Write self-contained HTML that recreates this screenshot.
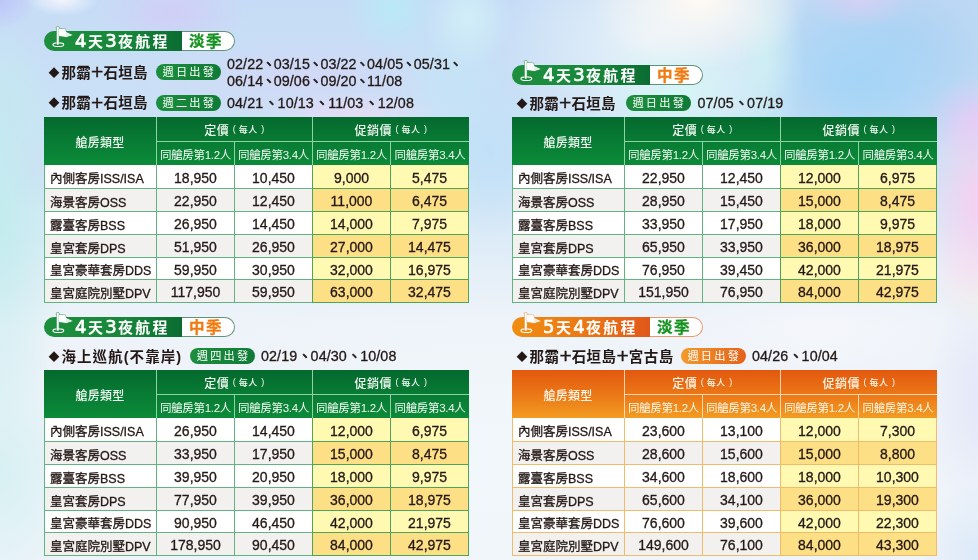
<!DOCTYPE html>
<html lang="zh-Hant"><head><meta charset="utf-8"><title>航程價格表</title>
<style>
*{margin:0;padding:0;box-sizing:border-box}
html,body{width:978px;height:560px;overflow:hidden}
body{position:relative;font-family:"Liberation Sans", "Noto Sans CJK TC", sans-serif;color:#231815;
background:
 radial-gradient(ellipse 36px 30px at 0px 0px, rgba(190,196,250,0.95), rgba(190,196,250,0) 100%),
 radial-gradient(ellipse 36px 16px at 62px 0px, rgba(248,248,252,0.9), rgba(248,248,252,0) 100%),
 radial-gradient(ellipse 110px 70px at 700px 0px, rgba(255,250,244,1), rgba(255,250,244,0) 100%),
 radial-gradient(ellipse 100px 60px at 680px 95px, rgba(214,246,246,0.9), rgba(214,246,246,0) 100%),
 radial-gradient(ellipse 150px 110px at 650px 40px, rgba(240,248,250,0.8), rgba(240,248,250,0) 100%),
 radial-gradient(ellipse 55px 100px at 980px 200px, rgba(248,206,240,1), rgba(248,206,240,0) 100%),
 radial-gradient(ellipse 45px 50px at 965px 270px, rgba(244,232,244,0.9), rgba(244,232,244,0) 100%),
 radial-gradient(ellipse 45px 40px at 985px 290px, rgba(238,242,230,0.9), rgba(238,242,230,0) 100%),
 radial-gradient(ellipse 60px 120px at 985px 400px, rgba(222,224,248,0.7), rgba(222,224,248,0) 100%),
 radial-gradient(ellipse 60px 80px at 978px 560px, rgba(214,230,248,0.8), rgba(214,230,248,0) 100%),
 radial-gradient(ellipse 55px 28px at 860px 0px, rgba(214,208,244,0.9), rgba(214,208,244,0) 100%),
 radial-gradient(ellipse 55px 45px at 978px 120px, rgba(228,200,246,0.9), rgba(228,200,246,0) 100%),
 radial-gradient(ellipse 40px 90px at 765px 60px, rgba(204,240,242,0.8), rgba(204,240,242,0) 100%),
 radial-gradient(ellipse 130px 90px at 860px 80px, rgba(164,212,246,1), rgba(164,212,246,0) 100%),
 radial-gradient(ellipse 170px 110px at 900px 40px, rgba(176,210,242,1), rgba(176,210,242,0) 100%),
 radial-gradient(ellipse 90px 22px at 350px 114px, rgba(232,220,246,0.9), rgba(232,220,246,0) 100%),
 radial-gradient(ellipse 45px 45px at 392px 8px, rgba(184,234,246,0.9), rgba(184,234,246,0) 100%),
 radial-gradient(ellipse 45px 50px at 468px 18px, rgba(210,240,248,0.9), rgba(210,240,248,0) 100%),
 radial-gradient(ellipse 60px 60px at 450px 75px, rgba(196,228,246,0.8), rgba(196,228,246,0) 100%),
 radial-gradient(ellipse 75px 40px at 172px 12px, rgba(208,206,246,1), rgba(208,206,246,0) 100%),
 radial-gradient(ellipse 170px 45px at 300px 78px, rgba(210,216,246,0.9), rgba(210,216,246,0) 100%),
 radial-gradient(ellipse 70px 210px at 0px 220px, rgba(194,236,238,1), rgba(194,236,238,0) 100%),
 radial-gradient(ellipse 30px 40px at 30px 170px, rgba(212,216,246,0.7), rgba(212,216,246,0) 100%),
 radial-gradient(ellipse 50px 60px at 0px 90px, rgba(200,228,244,0.9), rgba(200,228,244,0) 100%),
 radial-gradient(ellipse 90px 140px at 0px 470px, rgba(212,240,242,0.9), rgba(212,240,242,0) 100%),
 radial-gradient(ellipse 60px 90px at 490px 150px, rgba(192,224,248,0.9), rgba(192,224,248,0) 100%),
 radial-gradient(ellipse 420px 180px at 490px 470px, rgba(242,247,251,1), rgba(242,247,251,0) 100%),
 radial-gradient(ellipse 160px 60px at 820px 330px, rgba(244,246,251,1), rgba(244,246,251,0) 100%),
 linear-gradient(180deg, #c6dcf6 0%, #cde3f6 30%, #e4eff8 48%, #eef3f9 58%, #eff4fa 100%);}
.pill{position:absolute;width:191px;height:20px}
.pill .pl{position:absolute;left:0;top:0;width:138px;height:20px;border-radius:10px 0 0 10px}
.pill.g .pl{background:linear-gradient(90deg,#1e8f3e 0%,#17863a 60%,#0b6c32 100%)}
.pill.o .pl{background:linear-gradient(90deg,#ef8e12 0%,#eb7614 55%,#e1581a 100%)}
.pill .pr{position:absolute;left:138px;top:0;width:53px;height:20px;background:#fff;border-radius:0 10px 10px 0;border:1.4px solid #62927a;border-left:none}
.pill.o .pr{border-color:#e89a6a}
.pill .flag{position:absolute;left:0;top:-5px;z-index:2}
.pill .pm{position:absolute;left:31px;top:0;line-height:20px;font-size:15px;font-weight:700;color:#fff;letter-spacing:2.2px;white-space:nowrap;z-index:2}
.pill .dg{font-family:"DejaVu Sans",sans-serif;font-size:18px;font-weight:400;letter-spacing:1.5px;-webkit-text-stroke:0.7px #fff}
.pill .ps{position:absolute;left:145px;top:1.2px;line-height:20px;font-size:15.5px;font-weight:700;letter-spacing:1.5px;white-space:nowrap;z-index:2;-webkit-text-stroke:0.3px currentColor}
.ps.g{color:#14921f}
.ps.o{color:#f07a10}
.ln{position:absolute;height:20px;line-height:20px;white-space:nowrap}
.ln .dia{font-size:11px;display:inline-block;width:13px;vertical-align:top;line-height:20px}
.ln .tt{font-size:14.5px;font-weight:700;letter-spacing:0.3px}
.ln .plus{font-size:21px;font-weight:400;letter-spacing:0;line-height:10px;-webkit-text-stroke:0.35px #231815;position:relative;top:1.5px}
.badge{position:absolute;width:65.5px;height:16px;border-radius:8px;color:#fff;font-size:11.2px;line-height:17px;text-align:center;letter-spacing:2.2px;padding-left:2px;white-space:nowrap}
.badge.g{background:linear-gradient(90deg,#1c8e3e,#0f7b36)}
.badge.o{background:linear-gradient(90deg,#f29a2c,#e4621a)}
.dt{position:absolute;height:20px;line-height:20px;font-size:14.3px;white-space:nowrap;letter-spacing:0.1px;-webkit-text-stroke:0.3px #231815}
.dt .cm{margin-left:-1.5px;-webkit-text-stroke:0.6px #231815}
.tbl{position:absolute;width:425px;height:186px;display:grid;grid-template-columns:112px 78px 78px 78px 79px;grid-template-rows:25px 23px 24px 23px 23px 23px 22px 23px}
.tbl .hbg{grid-row:1/3;grid-column:1/6}
.tbl.g .hbg{background:linear-gradient(180deg,#04692e 0%,#087b34 50%,#0b8b38 100%)}
.tbl.o .hbg{background:linear-gradient(180deg,#e2580e 0%,#ec7a18 55%,#f29c22 100%)}
.h{display:flex;align-items:center;justify-content:center;white-space:nowrap;color:#f2faf2}
.tbl.o .h{color:#fff6e6}
.h1{font-size:12px;font-weight:500;letter-spacing:0.2px}
.h2{font-size:12px;font-weight:500;letter-spacing:0.5px;border-left:1px solid rgba(150,216,170,0.95);border-bottom:1px solid rgba(150,216,170,0.95)}
.h2 small{font-size:9px;font-weight:500;margin-left:3.5px}
.h2 small.m{margin-left:2.5px}
.h3{font-size:11.5px;font-weight:400;letter-spacing:-0.3px;border-left:1px solid rgba(150,216,170,0.95)}
.tbl.o .h2,.tbl.o .h3{border-color:rgba(255,230,200,0.85)}
.c{display:flex;align-items:center;white-space:nowrap;border-bottom:1px solid #62b282;border-left:1px solid #62b282;font-size:13px}
.tbl.o .c{border-color:#f0bc6c}
.c.n{padding-left:5px;padding-top:2px;font-size:12.5px;letter-spacing:0;-webkit-text-stroke:0.3px #231815}
.c.v,.c.p{justify-content:center;font-size:14px;padding-top:2px;-webkit-text-stroke:0.3px #231815}
.c.last{border-right:1px solid #62b282}
.tbl.o .c.last{border-right-color:#f0bc6c}
.c.odd{background:#fff}
.c.even{background:#f2f1f0}
.c.p.odd{background:#fff9b2}
.c.p.even{background:#fddf86}
.tbl.g .c.p{border-color:#4ea45a}
</style></head>
<body>
<div class="pill g" style="left:44px;top:30.5px"><svg class="flag" width="34" height="26" viewBox="0 0 34 26"><ellipse cx="14.35" cy="18.7" rx="5.4" ry="1.8" fill="none" stroke="#fff" stroke-width="1.1"/><g stroke="#4f9e68" stroke-width="0.7" fill="#fff"><path d="M14.8 2.4 L21.6 3.1 L22.2 6 L28.6 9 L22.4 11.1 L14.8 10.1 Z"/><rect x="12.7" y="1.6" width="2.1" height="17.3" rx="1"/><circle cx="13.75" cy="1.9" r="1.6"/></g><path d="M12.95 2.2 h1.6 v16 h-1.6 Z M15.1 2.8 L21.3 3.4 L21.9 6.3 L28 9 L22.2 10.8 L15.1 9.8 Z" fill="#fff"/><path d="M22 6.4 L27.8 9 L22.4 10.7 Z" fill="#e2f0e6"/></svg><div class="pl"></div><div class="pr"></div><span class="pm"><b class="dg">4</b>天<b class="dg">3</b>夜航程</span><span class="ps g">淡季</span></div>
<div class="pill g" style="left:512px;top:64.7px"><svg class="flag" width="34" height="26" viewBox="0 0 34 26"><ellipse cx="14.35" cy="18.7" rx="5.4" ry="1.8" fill="none" stroke="#fff" stroke-width="1.1"/><g stroke="#4f9e68" stroke-width="0.7" fill="#fff"><path d="M14.8 2.4 L21.6 3.1 L22.2 6 L28.6 9 L22.4 11.1 L14.8 10.1 Z"/><rect x="12.7" y="1.6" width="2.1" height="17.3" rx="1"/><circle cx="13.75" cy="1.9" r="1.6"/></g><path d="M12.95 2.2 h1.6 v16 h-1.6 Z M15.1 2.8 L21.3 3.4 L21.9 6.3 L28 9 L22.2 10.8 L15.1 9.8 Z" fill="#fff"/><path d="M22 6.4 L27.8 9 L22.4 10.7 Z" fill="#e2f0e6"/></svg><div class="pl"></div><div class="pr"></div><span class="pm"><b class="dg">4</b>天<b class="dg">3</b>夜航程</span><span class="ps o">中季</span></div>
<div class="pill g" style="left:44px;top:317px"><svg class="flag" width="34" height="26" viewBox="0 0 34 26"><ellipse cx="14.35" cy="18.7" rx="5.4" ry="1.8" fill="none" stroke="#fff" stroke-width="1.1"/><g stroke="#4f9e68" stroke-width="0.7" fill="#fff"><path d="M14.8 2.4 L21.6 3.1 L22.2 6 L28.6 9 L22.4 11.1 L14.8 10.1 Z"/><rect x="12.7" y="1.6" width="2.1" height="17.3" rx="1"/><circle cx="13.75" cy="1.9" r="1.6"/></g><path d="M12.95 2.2 h1.6 v16 h-1.6 Z M15.1 2.8 L21.3 3.4 L21.9 6.3 L28 9 L22.2 10.8 L15.1 9.8 Z" fill="#fff"/><path d="M22 6.4 L27.8 9 L22.4 10.7 Z" fill="#e2f0e6"/></svg><div class="pl"></div><div class="pr"></div><span class="pm"><b class="dg">4</b>天<b class="dg">3</b>夜航程</span><span class="ps o">中季</span></div>
<div class="pill o" style="left:512px;top:317px"><svg class="flag" width="34" height="26" viewBox="0 0 34 26"><ellipse cx="14.35" cy="18.7" rx="5.4" ry="1.8" fill="none" stroke="#fff" stroke-width="1.1"/><g stroke="#e9a066" stroke-width="0.7" fill="#fff"><path d="M14.8 2.4 L21.6 3.1 L22.2 6 L28.6 9 L22.4 11.1 L14.8 10.1 Z"/><rect x="12.7" y="1.6" width="2.1" height="17.3" rx="1"/><circle cx="13.75" cy="1.9" r="1.6"/></g><path d="M12.95 2.2 h1.6 v16 h-1.6 Z M15.1 2.8 L21.3 3.4 L21.9 6.3 L28 9 L22.2 10.8 L15.1 9.8 Z" fill="#fff"/><path d="M22 6.4 L27.8 9 L22.4 10.7 Z" fill="#fbe8d8"/></svg><div class="pl"></div><div class="pr"></div><span class="pm"><b class="dg">5</b>天<b class="dg">4</b>夜航程</span><span class="ps g">淡季</span></div>
<div class="ln" style="left:48.5px;top:62.8px"><span class="dia">◆</span><span class="tt" style="letter-spacing:0.3px">那霸<span class="plus">+</span>石垣島</span></div><div class="badge g" style="left:155.6px;top:64.2px">週日出發</div><div class="dt" style="left:227px;top:54.2px">02/22<span class="cm" style="margin-left:-1.5px;letter-spacing:-2.4px">、</span>03/15<span class="cm" style="margin-left:-1.5px;letter-spacing:-2.4px">、</span>03/22<span class="cm" style="margin-left:-1.5px;letter-spacing:-2.4px">、</span>04/05<span class="cm" style="margin-left:-1.5px;letter-spacing:-2.4px">、</span>05/31<span class="cm" style="margin-left:-1.5px;letter-spacing:-2.4px">、</span></div><div class="dt" style="left:227px;top:71px">06/14<span class="cm" style="margin-left:-1.5px;letter-spacing:-2.4px">、</span>09/06<span class="cm" style="margin-left:-1.5px;letter-spacing:-2.4px">、</span>09/20<span class="cm" style="margin-left:-1.5px;letter-spacing:-2.4px">、</span>11/08</div>
<div class="ln" style="left:48.5px;top:93.1px"><span class="dia">◆</span><span class="tt" style="letter-spacing:0.3px">那霸<span class="plus">+</span>石垣島</span></div><div class="badge g" style="left:155.6px;top:94.5px">週二出發</div><div class="dt" style="left:227px;top:92.5px">04/21<span class="cm" style="margin-left:1px;letter-spacing:-1px">、</span>10/13<span class="cm" style="margin-left:1px;letter-spacing:-1px">、</span>11/03<span class="cm" style="margin-left:1px;letter-spacing:-1px">、</span>12/08</div>
<div class="ln" style="left:516.5px;top:93.6px"><span class="dia">◆</span><span class="tt" style="letter-spacing:0.3px">那霸<span class="plus">+</span>石垣島</span></div><div class="badge g" style="left:625.5px;top:95px">週日出發</div><div class="dt" style="left:697.5px;top:93px">07/05<span class="cm" style="margin-left:0.5px;letter-spacing:-1.5px">、</span>07/19</div>
<div class="ln" style="left:48.5px;top:346.5px"><span class="dia">◆</span><span class="tt" style="letter-spacing:1.05px">海上巡航(不靠岸)</span></div><div class="badge g" style="left:189.8px;top:347.9px">週四出發</div><div class="dt" style="left:261px;top:345.9px">02/19<span class="cm" style="margin-left:0.5px;letter-spacing:-1.5px">、</span>04/30<span class="cm" style="margin-left:0.5px;letter-spacing:-1.5px">、</span>10/08</div>
<div class="ln" style="left:516.5px;top:346.6px"><span class="dia">◆</span><span class="tt" style="letter-spacing:0.45px">那霸<span class="plus">+</span>石垣島<span class="plus">+</span>宮古島</span></div><div class="badge o" style="left:680.5px;top:348px">週日出發</div><div class="dt" style="left:752px;top:346px">04/26<span class="cm" style="margin-left:0.5px;letter-spacing:-1.5px">、</span>10/04</div>
<div class="tbl g" style="left:44px;top:117px">
<div class="hbg"></div>
<div class="h h1" style="grid-row:1/3;grid-column:1">艙房類型</div>
<div class="h h2" style="grid-row:1;grid-column:2/4">定價<small>(</small><small class="m">每人</small><small>)</small></div>
<div class="h h2" style="grid-row:1;grid-column:4/6">促銷價<small>(</small><small class="m">每人</small><small>)</small></div>
<div class="h h3" style="grid-row:2;grid-column:2">同艙房第1.2人</div>
<div class="h h3" style="grid-row:2;grid-column:3">同艙房第3.4人</div>
<div class="h h3" style="grid-row:2;grid-column:4">同艙房第1.2人</div>
<div class="h h3" style="grid-row:2;grid-column:5">同艙房第3.4人</div>
<div class="c n odd">內側客房ISS/ISA</div><div class="c v odd">18,950</div><div class="c v odd">10,450</div><div class="c p odd">9,000</div><div class="c p odd last">5,475</div><div class="c n even">海景客房OSS</div><div class="c v even">22,950</div><div class="c v even">12,450</div><div class="c p even">11,000</div><div class="c p even last">6,475</div><div class="c n odd">露臺客房BSS</div><div class="c v odd">26,950</div><div class="c v odd">14,450</div><div class="c p odd">14,000</div><div class="c p odd last">7,975</div><div class="c n even">皇宮套房DPS</div><div class="c v even">51,950</div><div class="c v even">26,950</div><div class="c p even">27,000</div><div class="c p even last">14,475</div><div class="c n odd">皇宮豪華套房DDS</div><div class="c v odd">59,950</div><div class="c v odd">30,950</div><div class="c p odd">32,000</div><div class="c p odd last">16,975</div><div class="c n even">皇宮庭院別墅DPV</div><div class="c v even">117,950</div><div class="c v even">59,950</div><div class="c p even">63,000</div><div class="c p even last">32,475</div>
</div>
<div class="tbl g" style="left:512px;top:117px">
<div class="hbg"></div>
<div class="h h1" style="grid-row:1/3;grid-column:1">艙房類型</div>
<div class="h h2" style="grid-row:1;grid-column:2/4">定價<small>(</small><small class="m">每人</small><small>)</small></div>
<div class="h h2" style="grid-row:1;grid-column:4/6">促銷價<small>(</small><small class="m">每人</small><small>)</small></div>
<div class="h h3" style="grid-row:2;grid-column:2">同艙房第1.2人</div>
<div class="h h3" style="grid-row:2;grid-column:3">同艙房第3.4人</div>
<div class="h h3" style="grid-row:2;grid-column:4">同艙房第1.2人</div>
<div class="h h3" style="grid-row:2;grid-column:5">同艙房第3.4人</div>
<div class="c n odd">內側客房ISS/ISA</div><div class="c v odd">22,950</div><div class="c v odd">12,450</div><div class="c p odd">12,000</div><div class="c p odd last">6,975</div><div class="c n even">海景客房OSS</div><div class="c v even">28,950</div><div class="c v even">15,450</div><div class="c p even">15,000</div><div class="c p even last">8,475</div><div class="c n odd">露臺客房BSS</div><div class="c v odd">33,950</div><div class="c v odd">17,950</div><div class="c p odd">18,000</div><div class="c p odd last">9,975</div><div class="c n even">皇宮套房DPS</div><div class="c v even">65,950</div><div class="c v even">33,950</div><div class="c p even">36,000</div><div class="c p even last">18,975</div><div class="c n odd">皇宮豪華套房DDS</div><div class="c v odd">76,950</div><div class="c v odd">39,450</div><div class="c p odd">42,000</div><div class="c p odd last">21,975</div><div class="c n even">皇宮庭院別墅DPV</div><div class="c v even">151,950</div><div class="c v even">76,950</div><div class="c p even">84,000</div><div class="c p even last">42,975</div>
</div>
<div class="tbl g" style="left:44px;top:370px">
<div class="hbg"></div>
<div class="h h1" style="grid-row:1/3;grid-column:1">艙房類型</div>
<div class="h h2" style="grid-row:1;grid-column:2/4">定價<small>(</small><small class="m">每人</small><small>)</small></div>
<div class="h h2" style="grid-row:1;grid-column:4/6">促銷價<small>(</small><small class="m">每人</small><small>)</small></div>
<div class="h h3" style="grid-row:2;grid-column:2">同艙房第1.2人</div>
<div class="h h3" style="grid-row:2;grid-column:3">同艙房第3.4人</div>
<div class="h h3" style="grid-row:2;grid-column:4">同艙房第1.2人</div>
<div class="h h3" style="grid-row:2;grid-column:5">同艙房第3.4人</div>
<div class="c n odd">內側客房ISS/ISA</div><div class="c v odd">26,950</div><div class="c v odd">14,450</div><div class="c p odd">12,000</div><div class="c p odd last">6,975</div><div class="c n even">海景客房OSS</div><div class="c v even">33,950</div><div class="c v even">17,950</div><div class="c p even">15,000</div><div class="c p even last">8,475</div><div class="c n odd">露臺客房BSS</div><div class="c v odd">39,950</div><div class="c v odd">20,950</div><div class="c p odd">18,000</div><div class="c p odd last">9,975</div><div class="c n even">皇宮套房DPS</div><div class="c v even">77,950</div><div class="c v even">39,950</div><div class="c p even">36,000</div><div class="c p even last">18,975</div><div class="c n odd">皇宮豪華套房DDS</div><div class="c v odd">90,950</div><div class="c v odd">46,450</div><div class="c p odd">42,000</div><div class="c p odd last">21,975</div><div class="c n even">皇宮庭院別墅DPV</div><div class="c v even">178,950</div><div class="c v even">90,450</div><div class="c p even">84,000</div><div class="c p even last">42,975</div>
</div>
<div class="tbl o" style="left:512px;top:370px">
<div class="hbg"></div>
<div class="h h1" style="grid-row:1/3;grid-column:1">艙房類型</div>
<div class="h h2" style="grid-row:1;grid-column:2/4">定價<small>(</small><small class="m">每人</small><small>)</small></div>
<div class="h h2" style="grid-row:1;grid-column:4/6">促銷價<small>(</small><small class="m">每人</small><small>)</small></div>
<div class="h h3" style="grid-row:2;grid-column:2">同艙房第1.2人</div>
<div class="h h3" style="grid-row:2;grid-column:3">同艙房第3.4人</div>
<div class="h h3" style="grid-row:2;grid-column:4">同艙房第1.2人</div>
<div class="h h3" style="grid-row:2;grid-column:5">同艙房第3.4人</div>
<div class="c n odd">內側客房ISS/ISA</div><div class="c v odd">23,600</div><div class="c v odd">13,100</div><div class="c p odd">12,000</div><div class="c p odd last">7,300</div><div class="c n even">海景客房OSS</div><div class="c v even">28,600</div><div class="c v even">15,600</div><div class="c p even">15,000</div><div class="c p even last">8,800</div><div class="c n odd">露臺客房BSS</div><div class="c v odd">34,600</div><div class="c v odd">18,600</div><div class="c p odd">18,000</div><div class="c p odd last">10,300</div><div class="c n even">皇宮套房DPS</div><div class="c v even">65,600</div><div class="c v even">34,100</div><div class="c p even">36,000</div><div class="c p even last">19,300</div><div class="c n odd">皇宮豪華套房DDS</div><div class="c v odd">76,600</div><div class="c v odd">39,600</div><div class="c p odd">42,000</div><div class="c p odd last">22,300</div><div class="c n even">皇宮庭院別墅DPV</div><div class="c v even">149,600</div><div class="c v even">76,100</div><div class="c p even">84,000</div><div class="c p even last">43,300</div>
</div>

</body></html>
